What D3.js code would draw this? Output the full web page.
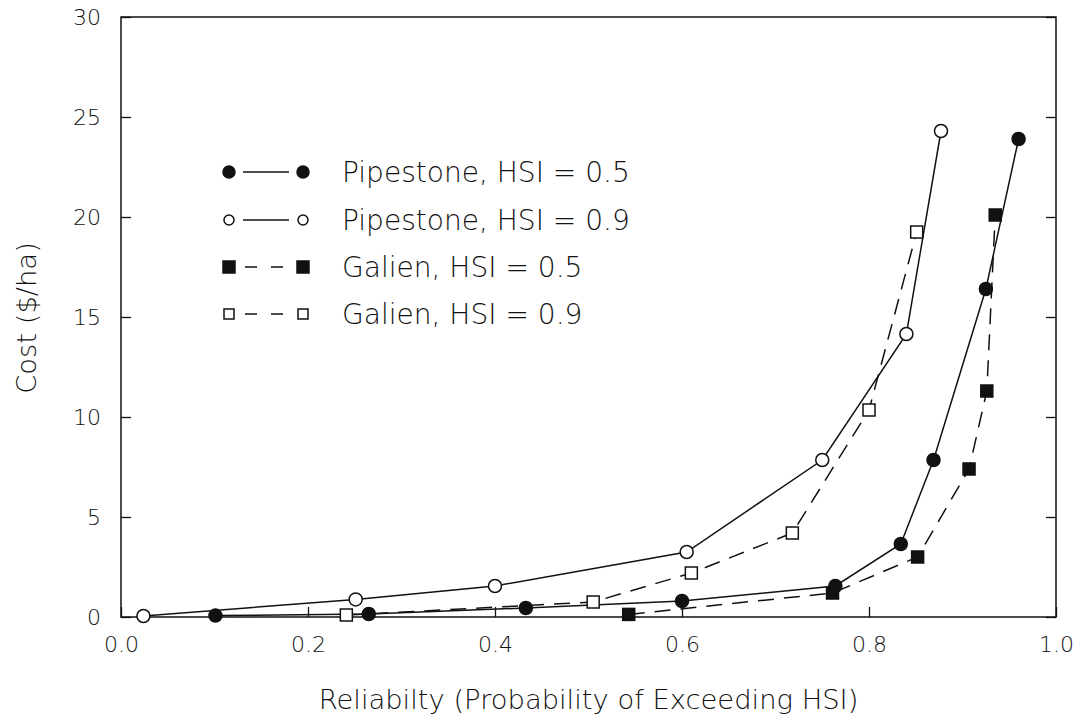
<!DOCTYPE html>
<meta charset="utf-8">
<script src="https://d3js.org/d3.v7.min.js"></script>
<style>
  body { margin: 0; background: #fff; }
  text { font-family: "DejaVu Sans", sans-serif; font-weight: 200; fill: #111; }
</style>

<svg id="chart" width="1080" height="727"></svg>

<script>

// Series (reliability, cost in $/ha)
var pipe05X = [0.101, 0.265, 0.433, 0.600, 0.764, 0.834, 0.869, 0.925, 0.960];
var pipe05Y = [0.07, 0.15, 0.45, 0.8, 1.55, 3.65, 7.85, 16.4, 23.9];

var pipe09X = [0.024, 0.251, 0.400, 0.605, 0.750, 0.840, 0.877];
var pipe09Y = [0.05, 0.88, 1.55, 3.25, 7.85, 14.15, 24.3];

var gal05X = [0.543, 0.761, 0.852, 0.907, 0.926, 0.935];
var gal05Y = [0.13, 1.2, 3.0, 7.4, 11.3, 20.1];

var gal09X = [0.241, 0.505, 0.610, 0.718, 0.800, 0.851];
var gal09Y = [0.1, 0.75, 2.2, 4.2, 10.35, 19.25];

var seriesNames = ["Pipestone, HSI = 0.5", "Pipestone, HSI = 0.9", "Galien, HSI = 0.5", "Galien, HSI = 0.9"];
var xTicks = [0, 0.2, 0.4, 0.6, 0.8, 1.0];
var yTicks = [0, 5, 10, 15, 20, 25, 30];

var svg = d3.select("#chart");

// plot frame (pixels)
var plotLeft = 121, plotRight = 1056, plotTop = 17, plotBottom = 617;

var x = d3.scaleLinear().domain([0, 1]).range([plotLeft, plotRight]);
var y = d3.scaleLinear().domain([0, 30]).range([plotBottom, plotTop]);

// scale a text's font so it spans a given width
function fitFont(node, target) {
  d3.select(node).style("font-size", "20px");
  return 20 * target / node.getComputedTextLength();
}

// build series list from the arrays
function zip(xs, ys) { return xs.map(function(v, i){ return {x: v, y: ys[i]}; }); }
var series = [
  {name: seriesNames[0], pts: zip(pipe05X, pipe05Y), shape: "circle", filled: true,  dashed: false},
  {name: seriesNames[1], pts: zip(pipe09X, pipe09Y), shape: "circle", filled: false, dashed: false},
  {name: seriesNames[2], pts: zip(gal05X, gal05Y),   shape: "square", filled: true,  dashed: true},
  {name: seriesNames[3], pts: zip(gal09X, gal09Y),   shape: "square", filled: false, dashed: true}
];

// axes (ticks point inward)
var gx = svg.append("g")
    .attr("transform", "translate(0," + plotBottom + ")")
    .call(d3.axisBottom(x).tickValues(xTicks).tickFormat(d3.format(".1f")).tickSize(-10).tickPadding(19));

var gy = svg.append("g")
    .attr("transform", "translate(" + plotLeft + ",0)")
    .call(d3.axisLeft(y).tickValues(yTicks).tickSize(-10).tickPadding(20));

svg.append("g")
    .attr("transform", "translate(" + plotRight + ",0)")
    .call(d3.axisRight(y).tickValues(yTicks).tickSize(-10).tickFormat(""));

svg.selectAll(".domain").remove();
svg.selectAll(".tick line").attr("stroke", "#111").attr("stroke-width", 1.3);

var tickSize = fitFont(gx.select(".tick text").node(), 35);
svg.selectAll(".tick text").style("font-size", tickSize + "px").attr("fill", "#111");

svg.append("rect")
    .attr("x", plotLeft).attr("y", plotTop)
    .attr("width", plotRight - plotLeft).attr("height", plotBottom - plotTop)
    .attr("fill", "none").attr("stroke", "#111").attr("stroke-width", 1.5);

// axis titles
var xTitle = svg.append("text")
    .attr("x", (plotLeft + plotRight) / 2).attr("y", 699)
    .attr("text-anchor", "middle").attr("dy", "0.35em")
    .text("Reliabilty (Probability of Exceeding HSI)");
var titleSize = fitFont(xTitle.node(), 540);
xTitle.style("font-size", titleSize + "px");

svg.append("text")
    .attr("transform", "translate(26,318) rotate(-90)")
    .attr("text-anchor", "middle").attr("dy", "0.35em")
    .style("font-size", titleSize + "px")
    .text("Cost ($/ha)");

// lines
var line = d3.line().x(function(d){ return x(d.x) }).y(function(d){ return y(d.y) });

svg.selectAll("path.series")
  .data(series)
  .enter()
  .append("path")
    .attr("class", "series")
    .attr("d", function(d){ return line(d.pts) })
    .attr("fill", "none")
    .attr("stroke", "#111")
    .attr("stroke-width", 1.5)
    .attr("stroke-dasharray", function(d){ return d.dashed ? "16,10" : null });

// markers
function drawMarker(g, s, cx, cy, size) {
  if (s.shape === "circle") {
    g.append("circle")
      .attr("cx", cx).attr("cy", cy).attr("r", size / 2)
      .attr("fill", s.filled ? "#111" : "#fff")
      .attr("stroke", "#111").attr("stroke-width", 1.5);
  } else {
    g.append("rect")
      .attr("x", cx - size / 2).attr("y", cy - size / 2)
      .attr("width", size).attr("height", size)
      .attr("fill", s.filled ? "#111" : "#fff")
      .attr("stroke", "#111").attr("stroke-width", 1.5);
  }
}

var marks = svg.append("g");
series.forEach(function(s){
  s.pts.forEach(function(p){
    drawMarker(marks, s, x(p.x), y(p.y), s.shape === "circle" ? 13 : 12);
  });
});

// legend
var legendY = [172, 220, 267, 314];
var legend = svg.append("g");
var legendSize = null;
series.forEach(function(s, i){
  var ly = legendY[i];
  legend.append("line")
    .attr("x1", 243).attr("x2", 289).attr("y1", ly).attr("y2", ly)
    .attr("stroke", "#111").attr("stroke-width", 1.5)
    .attr("stroke-dasharray", s.dashed ? "12,14" : null)
    .attr("stroke-dashoffset", s.dashed ? -2 : 0);
  var sz = s.filled ? 12 : 10;
  drawMarker(legend, s, 229, ly, sz);
  drawMarker(legend, s, 303, ly, sz);
  var t = legend.append("text")
    .attr("x", 342).attr("y", ly).attr("dy", "0.35em")
    .text(s.name);
  if (legendSize === null) legendSize = fitFont(t.node(), 288);
  t.style("font-size", legendSize + "px");
});

</script>
